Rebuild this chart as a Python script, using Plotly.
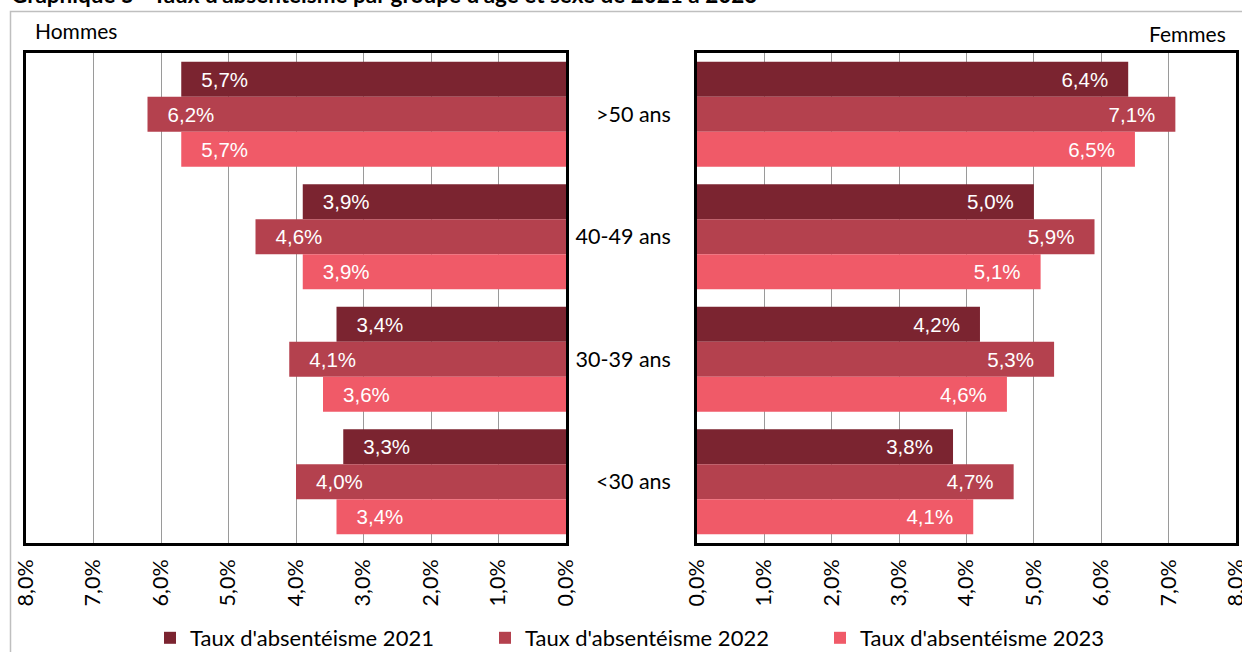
import plotly.graph_objects as go

# Age groups, top to bottom
age_groups = [">50 ans", "40-49 ans", "30-39 ans", "<30 ans"]
years = ["2021", "2022", "2023"]

# Absenteeism rates (%) per year, in age_groups order
hommes = {
    "2021": [5.7, 3.9, 3.4, 3.3],
    "2022": [6.2, 4.6, 4.1, 4.0],
    "2023": [5.7, 3.9, 3.6, 3.4],
}
femmes = {
    "2021": [6.4, 5.0, 4.2, 3.8],
    "2022": [7.1, 5.9, 5.3, 4.7],
    "2023": [6.5, 5.1, 4.6, 4.1],
}

x_ticks = [0, 1, 2, 3, 4, 5, 6, 7, 8]
colors = {"2021": "#7B2430", "2022": "#B4414E", "2023": "#F05A68"}

W, H = 1242, 652


def px_x(p):
    return p / W


def px_y(p):
    return (H - p) / H


LABEL_FONT = "Lato, 'Open Sans', sans-serif"
VALUE_FONT = "'Liberation Sans', Arial, sans-serif"
PAD = "\u00a0\u00a0\u00a0"


def fmt(v):
    return f"{v:.1f}".replace(".", ",") + "%"


fig = go.Figure()

for yr in years:
    fig.add_trace(go.Bar(
        y=age_groups, x=hommes[yr], orientation="h",
        name=f"Taux d'absentéisme {yr}",
        marker=dict(color=colors[yr], line=dict(width=0)),
        text=[PAD + fmt(v) for v in hommes[yr]],
        textposition="inside", insidetextanchor="end",
        textfont=dict(family=VALUE_FONT, size=20.5, color="white"),
        xaxis="x", yaxis="y", showlegend=True, legendgroup=yr,
        hoverinfo="skip",
    ))

for yr in years:
    fig.add_trace(go.Bar(
        y=age_groups, x=femmes[yr], orientation="h",
        name=f"Taux d'absentéisme {yr}",
        marker=dict(color=colors[yr], line=dict(width=0)),
        text=[fmt(v) + PAD for v in femmes[yr]],
        textposition="inside", insidetextanchor="end",
        textfont=dict(family=VALUE_FONT, size=20.5, color="white"),
        xaxis="x2", yaxis="y2", showlegend=False, legendgroup=yr,
        hoverinfo="skip",
    ))

y_dom = [px_y(543), px_y(53)]
tick_text = [fmt(t) for t in x_ticks]

axis_common = dict(
    tickvals=x_ticks, ticktext=tick_text, tickangle=-90,
    tickfont=dict(family=LABEL_FONT, size=21.5, color="#000000"),
    showgrid=True, gridcolor="#9A9A9A", gridwidth=1,
    showline=True, linecolor="#000000", linewidth=2.5, mirror=True,
    ticks="", zeroline=False, ticklabelstandoff=5, fixedrange=True,
    automargin=False, ticklabeloverflow="allow",
)

y_common = dict(
    domain=y_dom, autorange="reversed", categoryorder="array",
    categoryarray=age_groups, showline=True, linecolor="#000000",
    linewidth=2.5, mirror=True, ticks="", fixedrange=True, automargin=False,
)

fig.update_layout(
    width=W, height=H,
    margin=dict(l=0, r=0, t=0, b=0, autoexpand=False),
    paper_bgcolor="white", plot_bgcolor="white",
    barmode="group", bargap=0.143, bargroupgap=0,
    xaxis=dict(domain=[px_x(26), px_x(566)], range=[8, 0], anchor="y", **axis_common),
    xaxis2=dict(domain=[px_x(697), px_x(1236)], range=[0, 8], anchor="y2", **axis_common),
    yaxis=dict(anchor="x", showticklabels=False, **y_common),
    yaxis2=dict(anchor="x2", showticklabels=True, ticklabelstandoff=19,
                tickfont=dict(family=LABEL_FONT, size=21.5, color="#000000"),
                **y_common),
    legend=dict(
        orientation="h", x=px_x(150), xanchor="left", y=px_y(638), yanchor="middle",
        font=dict(family=LABEL_FONT, size=22, color="#000000"),
        bgcolor="rgba(0,0,0,0)", entrywidth=290, entrywidthmode="pixels",
        itemwidth=30, traceorder="normal",
    ),
    showlegend=True,
)

# Chart title (top of the frame)
fig.add_annotation(
    text="<b>Graphique 5 - Taux d'absentéisme par groupe d'âge et sexe de 2021 à 2023</b>",
    xref="paper", yref="paper", x=px_x(9), y=px_y(10), xanchor="left", yanchor="bottom",
    showarrow=False, font=dict(family=LABEL_FONT, size=22.5, color="#000000"),
)
fig.add_annotation(
    text="Hommes", xref="paper", yref="paper", x=px_x(33), y=px_y(31),
    xanchor="left", yanchor="middle", showarrow=False,
    font=dict(family=LABEL_FONT, size=21, color="#000000"),
)
fig.add_annotation(
    text="Femmes", xref="paper", yref="paper", x=px_x(1228), y=px_y(33),
    xanchor="right", yanchor="middle", showarrow=False,
    font=dict(family=LABEL_FONT, size=21, color="#000000"),
)

# Outer chart-area border
fig.add_shape(
    type="rect", xref="paper", yref="paper",
    x0=px_x(10.5), x1=px_x(1260), y0=px_y(670), y1=px_y(11.5),
    line=dict(color="#BFBFBF", width=1.5), fillcolor="rgba(0,0,0,0)", layer="below",
)

fig.write_html("out.html")
